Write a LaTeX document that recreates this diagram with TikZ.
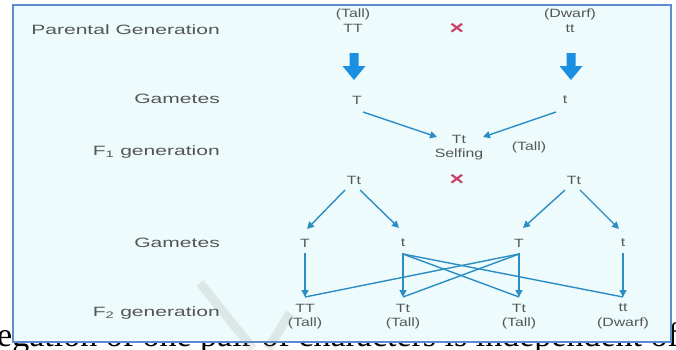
\documentclass[tikz,border=0pt]{standalone}
\usepackage{fontspec}
\setmainfont{Liberation Sans}
\newfontfamily\labfont[FakeStretch=1.56]{Liberation Sans}
\newfontfamily\genfont[FakeStretch=1.32]{Liberation Sans}
\newfontfamily\capfont{Liberation Serif}
\usetikzlibrary{arrows.meta,calc}
\definecolor{panelfill}{HTML}{EEFBFC}
\definecolor{panelline}{HTML}{5C8BCF}
\definecolor{txtgray}{HTML}{555555}
\definecolor{arrblue}{HTML}{2C8DC4}
\definecolor{bigblue}{HTML}{1B8FE2}
\definecolor{crossred}{HTML}{C8436A}
\tikzset{
  lab/.style={anchor=east,inner sep=0pt,text=txtgray,font=\labfont\fontsize{13.5}{15}\selectfont},
  gen/.style={inner sep=0pt,text=txtgray,align=center,font=\genfont\fontsize{12}{14.5}\selectfont},
  crossmark/.style={inner sep=0pt,text=crossred,font=\genfont\bfseries\fontsize{19}{19}\selectfont},
  arr/.style={draw=arrblue,line width=1.4pt,-{Triangle[length=7pt,width=7pt]}},
  plainline/.style={draw=arrblue,line width=1.4pt},
  bigdown/.pic={\fill[bigblue] (-4.5,0) -- (4.5,0) -- (4.5,13) -- (11.5,13) -- (0,27) -- (-11.5,13) -- (-4.5,13) -- cycle;},
  wmark/.style={draw=gray,opacity=0.16,line width=9pt,line cap=butt}
}
\begin{document}
\begin{tikzpicture}[x=1pt,y=-1pt]
\useasboundingbox (0,0) rectangle (676,349);
% caption text partly hidden below the panel
\begin{scope}
\clip (0,0) rectangle (676,349);
\node[anchor=base west,inner sep=0pt,font=\capfont\fontsize{34}{34}\selectfont] (cap) at (-3,346) {egation of one pair of characters is independent of the other};
\end{scope}
% panel
\draw[draw=panelline,line width=2pt,fill=panelfill] (13,5) rectangle (671,342);
% watermark strokes
\draw[wmark] (200,283) -- (253,349);
\draw[wmark] (290,313) -- (268,349);
% left labels
\node[lab] (lpg) at (220,30) {Parental Generation};
\node[lab] (lg1) at (220,99) {Gametes};
\node[lab] (lf1) at (220,152) {F\textsubscript{1} generation};
\node[lab] (lg2) at (220,243) {Gametes};
\node[lab] (lf2) at (220,313) {F\textsubscript{2} generation};
% parents
\node[gen,anchor=north] (pTT) at (353,9) {(Tall)\\TT};
\node[crossmark] (x1) at (457,29) {×};
\node[gen,anchor=north] (ptt) at (570,9) {(Dwarf)\\tt};
\pic at (354,53) {bigdown};
\pic at (571,53) {bigdown};
% gametes 1
\node[gen] (g1T) at (357,100) {T};
\node[gen] (g1t) at (565,100) {t};
% F1
\node[gen,anchor=north] (f1) at (459,135) {Tt\\Selfing};
\node[gen] (f1tall) at (529,147) {(Tall)};
\draw[arr] ($(g1T)+(6,12)$) -- ($(f1.north)+(-22,2)$);
\draw[arr] ($(g1t)+(-9,12)$) -- ($(f1.north)+(24,2)$);
% selfing row
\node[gen] (s1) at (354,180) {Tt};
\node[crossmark] (x2) at (457,180) {×};
\node[gen] (s2) at (574,180) {Tt};
% gametes 2
\node[gen] (gA) at (305,243) {T};
\node[gen] (gB) at (403,243) {t};
\node[gen] (gC) at (519,243) {T};
\node[gen] (gD) at (623,243) {t};
\draw[arr] ($(s1)+(-9,10)$) -- ($(gA)+(2,-14)$);
\draw[arr] ($(s1)+(6,10)$) -- ($(gB)+(-4,-15)$);
\draw[arr] ($(s2)+(-9,10)$) -- ($(gC)+(4,-15)$);
\draw[arr] ($(s2)+(6,10)$) -- ($(gD)+(-4,-14)$);
% F2
\node[gen,anchor=north] (oA) at (305,304) {TT\\(Tall)};
\node[gen,anchor=north] (oB) at (403,304) {Tt\\(Tall)};
\node[gen,anchor=north] (oC) at (519,304) {Tt\\(Tall)};
\node[gen,anchor=north] (oD) at (623,304) {tt\\(Dwarf)};
\draw[plainline] ($(gB)+(0,11)$) -- ($(oC.north)+(0,-7)$);
\draw[plainline] ($(gB)+(0,11)$) -- ($(oD.north)+(0,-7)$);
\draw[plainline] ($(gC)+(0,11)$) -- ($(oA.north)+(0,-7)$);
\draw[plainline] ($(gC)+(0,11)$) -- ($(oB.north)+(0,-7)$);
\draw[arr] ($(gA)+(0,10)$) -- ($(oA.north)+(0,-7)$);
\draw[arr] ($(gB)+(0,10)$) -- ($(oB.north)+(0,-7)$);
\draw[arr] ($(gC)+(0,10)$) -- ($(oC.north)+(0,-7)$);
\draw[arr] ($(gD)+(0,10)$) -- ($(oD.north)+(0,-7)$);
\end{tikzpicture}
\end{document}
